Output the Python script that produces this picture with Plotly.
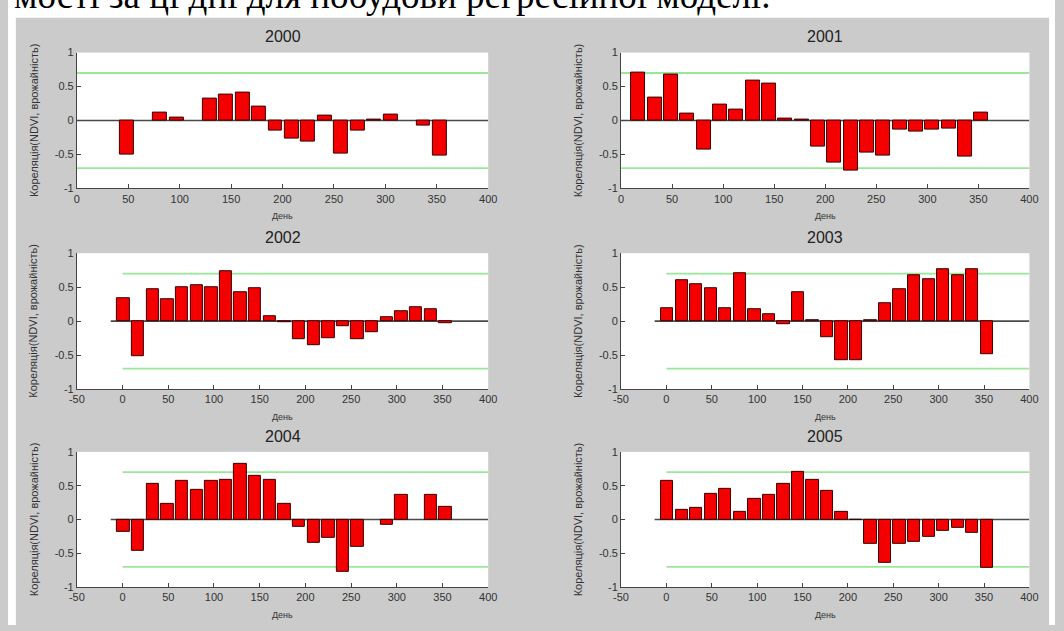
import plotly.graph_objects as go

# 16-day composite start days used for every year
DAYS = [1, 17, 33, 49, 65, 81, 97, 113, 129, 145, 161, 177,
        193, 209, 225, 241, 257, 273, 289, 305, 321, 337, 353]

# Correlation (NDVI vs. yield) per composite period; None = no value
CORR_2000 = [None, None, None, -0.50, None, 0.11, 0.04, None, 0.32, 0.38, 0.41, 0.21,
             -0.15, -0.26, -0.31, 0.07, -0.49, -0.15, 0.02, 0.09, None, -0.07, -0.52]
CORR_2001 = [None, 0.70, 0.34, 0.68, 0.10, -0.43, 0.24, 0.16, 0.59, 0.54, 0.03, 0.01,
             -0.38, -0.62, -0.73, -0.47, -0.51, -0.13, -0.17, -0.14, -0.12, -0.53, 0.11]
CORR_2002 = [0.34, -0.51, 0.47, 0.32, 0.50, 0.53, 0.50, 0.73, 0.43, 0.49, 0.07, -0.01,
             -0.26, -0.35, -0.25, -0.08, -0.26, -0.17, 0.06, 0.15, 0.20, 0.17, -0.03]
CORR_2003 = [0.19, 0.60, 0.55, 0.48, 0.19, 0.71, 0.18, 0.10, -0.05, 0.42, 0.02, -0.23,
             -0.57, -0.57, 0.02, 0.26, 0.47, 0.67, 0.62, 0.76, 0.67, 0.76, -0.48]
CORR_2004 = [-0.18, -0.46, 0.52, 0.23, 0.57, 0.44, 0.57, 0.58, 0.83, 0.64, 0.58, 0.23,
             -0.11, -0.35, -0.27, -0.77, -0.41, None, -0.08, 0.37, None, 0.37, 0.19]
CORR_2005 = [0.57, 0.14, 0.18, 0.38, 0.45, 0.11, 0.31, 0.37, 0.53, 0.71, 0.58, 0.43,
             0.11, -0.01, -0.36, -0.64, -0.36, -0.33, -0.25, -0.17, -0.13, -0.19, -0.72]

YEARS = ["2000", "2001", "2002", "2003", "2004", "2005"]
SERIES = [CORR_2000, CORR_2001, CORR_2002, CORR_2003, CORR_2004, CORR_2005]
X_MIN = [0, 0, -50, -50, -50, -50]

THRESHOLD = 0.7            # significance level lines
THRESH_SPAN = [0, 400]
BASE_SPAN = [-13, 400]
Y_TICKS = [-1, -0.5, 0, 0.5, 1]
Y_TICK_TEXT = ["-1", "-0.5", "0", "0.5", "1"]
X_TICKS = [-50, 0, 50, 100, 150, 200, 250, 300, 350, 400]
X_TICK_TEXT = ["-50", "0", "50", "100", "150", "200", "250", "300", "350", "400"]

X_LABEL = "День"
Y_LABEL = "Кореляція(NDVI, врожайність)"
HEADER = "мості за ці дні для побудови регресійної моделі."

W, H = 1064, 631
COLS = [(70, 488), (623, 1038)]
ROWS = [(47.5, 186), (252, 390.5), (454.5, 592.5)]


def fx(p):
    return p / W


def fy(p):
    return 1 - p / H


FONT = "Liberation Sans, Arial, sans-serif"
fig = go.Figure()
annotations = []
shapes = []
layout = {}

for i, (year, vals) in enumerate(zip(YEARS, SERIES)):
    r, c = divmod(i, 2)
    n = "" if i == 0 else str(i + 1)
    xa, ya = "x" + n, "y" + n
    x0, x1 = COLS[c]
    y0, y1 = ROWS[r]

    # threshold and baseline lines sit underneath the bars
    for sgn in (1, -1):
        shapes.append(dict(type="line", xref=xa, yref=ya,
                           x0=THRESH_SPAN[0], x1=THRESH_SPAN[1],
                           y0=sgn * THRESHOLD, y1=sgn * THRESHOLD,
                           line=dict(color="#98e898", width=1.8), layer="below"))
    shapes.append(dict(type="line", xref=xa, yref=ya,
                       x0=max(BASE_SPAN[0], X_MIN[i]), x1=BASE_SPAN[1], y0=0, y1=0,
                       line=dict(color="#4a4a4a", width=1.6), layer="below"))

    fig.add_trace(go.Bar(
        x=DAYS, y=vals, width=13.5,
        marker=dict(color="#f40000", line=dict(color="#3a0000", width=1)),
        xaxis=xa, yaxis=ya, showlegend=False))

    ticks = [(t, s) for t, s in zip(X_TICKS, X_TICK_TEXT) if t >= X_MIN[i]]
    layout["xaxis" + n] = dict(
        domain=[fx(x0), fx(x1)], anchor=ya, range=[X_MIN[i], 400],
        tickvals=[t for t, _ in ticks], ticktext=[s for _, s in ticks],
        ticks="inside", ticklen=4, tickcolor="#444", showline=True,
        linecolor="#444", linewidth=1, mirror=False, showgrid=False,
        zeroline=False, tickfont=dict(family=FONT, size=11, color="#333"))
    layout["yaxis" + n] = dict(
        domain=[fy(y1), fy(y0)], anchor=xa, range=[-1, 1],
        tickvals=Y_TICKS, ticktext=Y_TICK_TEXT,
        ticks="inside", ticklen=4, tickcolor="#444", showline=True,
        linecolor="#444", linewidth=1, mirror=False, showgrid=False,
        zeroline=False, tickfont=dict(family=FONT, size=11, color="#333"))

    cx = fx((x0 + x1) / 2)
    annotations.append(dict(text=year, x=cx, y=fy(y0 - 16), xref="paper", yref="paper",
                            showarrow=False, xanchor="center", yanchor="middle",
                            font=dict(family=FONT, size=16, color="#222")))
    annotations.append(dict(text=X_LABEL, x=cx, y=fy(y1 + 28), xref="paper", yref="paper",
                            showarrow=False, xanchor="center", yanchor="middle",
                            font=dict(family=FONT, size=9, color="#333")))
    annotations.append(dict(text=Y_LABEL, x=fx(x0 - 44), y=fy((y0 + y1) / 2),
                            xref="paper", yref="paper", textangle=-90,
                            showarrow=False, xanchor="center", yanchor="middle",
                            font=dict(family=FONT, size=11, color="#333")))

# document line above the figure window
annotations.append(dict(text=HEADER, x=fx(4), y=fy(12), xref="paper", yref="paper",
                        showarrow=False, xanchor="left", yanchor="bottom",
                        font=dict(family="Liberation Serif, Times New Roman, serif",
                                  size=37, color="#000")))

shapes += [
    dict(type="rect", xref="paper", yref="paper", x0=0, x1=1, y0=fy(12), y1=1.05,
         fillcolor="white", line=dict(width=0), layer="below"),
    dict(type="rect", xref="paper", yref="paper", x0=0, x1=fx(8), y0=0, y1=1,
         fillcolor="white", line=dict(width=0), layer="below"),
    dict(type="rect", xref="paper", yref="paper", x0=fx(1058), x1=1, y0=0, y1=1,
         fillcolor="white", line=dict(width=0), layer="below"),
]

fig.update_layout(
    width=W, height=H, margin=dict(l=0, r=0, t=0, b=0),
    paper_bgcolor="#cbcbcb", plot_bgcolor="white",
    bargap=0, annotations=annotations, shapes=shapes, **layout)

fig.write_html("out.html")
